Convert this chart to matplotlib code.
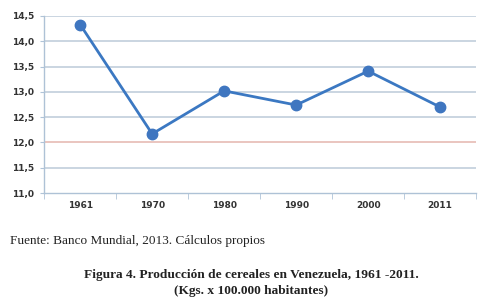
import matplotlib
matplotlib.use("Agg")
from matplotlib import pyplot as plt
import numpy as np

# datos
anios = ["1961", "1970", "1980", "1990", "2000", "2011"]
produccion = [14.33, 12.17, 13.02, 12.74, 13.41, 12.70]
y_ticks = [11.0, 11.5, 12.0, 12.5, 13.0, 13.5, 14.0, 14.5]

fuente = "Fuente: Banco Mundial, 2013. Cálculos propios"
titulo = "Figura 4. Producción de cereales en Venezuela, 1961 -2011.\n(Kgs. x 100.000 habitantes)"

fig = plt.figure(figsize=(4.8, 3.07), dpi=100)
ax = fig.add_axes([0.092, 0.371, 0.9, 0.577])

x = np.arange(len(anios))
ax.plot(x, produccion, color="#3b78c2", lw=2, marker="o", ms=7.5,
        mfc="#3f76c0", mec="#3f76c0", zorder=3)

ax.set_xlim(-0.5, len(anios) - 0.5)
ax.set_ylim(11.0, 14.5)
ax.set_yticks(y_ticks)
ax.set_yticklabels([f"{v:.1f}".replace(".", ",") for v in y_ticks])
for v in y_ticks[1:]:
    c = "#e8c0ba" if v == 12.0 else "#c6d2de"
    ax.axhline(v, color=c, lw=1.3, zorder=1)

ax.set_xticks(x)
ax.set_xticklabels(anios)
ax.set_xticks(np.arange(len(anios) + 1) - 0.5, minor=True)
ax.tick_params(axis="x", which="major", length=0, pad=6)
ax.tick_params(axis="x", which="minor", length=4, color="#b0c4d8", direction="out")
ax.tick_params(axis="y", length=3, color="#b0c4d8", pad=4)
for lab in ax.get_xticklabels() + ax.get_yticklabels():
    lab.set_fontsize(6.5)
    lab.set_fontweight("bold")
    lab.set_color("#333333")

for s in ["top", "right"]:
    ax.spines[s].set_visible(False)
for s in ["left", "bottom"]:
    ax.spines[s].set_color("#aec2d6")
    ax.spines[s].set_linewidth(1)

fig.text(10 / 480, 1 - 241 / 307, fuente, fontsize=9.5, family="Liberation Serif",
         color="#222222", va="center", ha="left")
fig.text(251 / 480, 1 - 283 / 307, titulo, fontsize=9.6, family="Liberation Serif",
         fontweight="bold", color="#222222", va="center", ha="center",
         multialignment="center", linespacing=1.35)

fig.savefig("out.png", dpi=100)
